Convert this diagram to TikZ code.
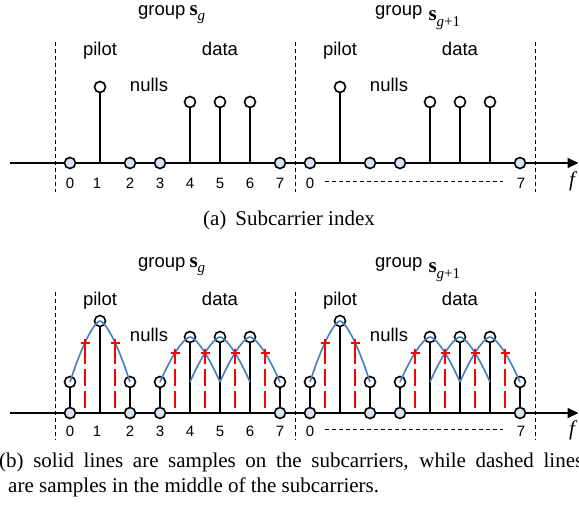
\documentclass[tikz,border=0pt]{standalone}
\usepackage{fontspec}
\setmainfont{Liberation Serif}
\newfontfamily\arialf{Liberation Sans}
\usetikzlibrary{arrows.meta}
\definecolor{nullfill}{RGB}{220,228,242}
\definecolor{curveblue}{RGB}{74,126,187}
\newcommand\grpg{{\arialf\fontsize{18.5}{20}\selectfont group}\hspace{4pt}{\fontsize{21}{22}\selectfont\bfseries s}\raisebox{-5pt}{\fontsize{15}{16}\selectfont\itshape g}}
\newcommand\grpgp{{\arialf\fontsize{18.5}{20}\selectfont group}\hspace{6pt}\raisebox{-5pt}{{\fontsize{21}{22}\selectfont\bfseries s}\raisebox{-6pt}{\fontsize{15}{16}\selectfont\itshape g\upshape +1}}}
\begin{document}
\begin{tikzpicture}[x=1pt,y=-1pt,
  axisline/.style={line width=2pt,-{Triangle[length=11pt,width=10pt]}},
  stem/.style={line width=1.6pt},
  nullc/.style={circle,draw,line width=1.6pt,fill=nullfill,minimum size=11pt,inner sep=0pt},
  openc/.style={circle,draw,line width=1.6pt,fill=white,minimum size=11pt,inner sep=0pt},
  sep/.style={line width=0.8pt,dash pattern=on 4pt off 3pt},
  lbl/.style={font=\arialf\fontsize{18.5}{20}\selectfont,anchor=base,inner sep=0pt},
  num/.style={font=\arialf\fontsize{15}{16}\selectfont,anchor=base,inner sep=0pt},
  fl/.style={font=\fontsize{21}{22}\selectfont\itshape,anchor=base,inner sep=0pt},
  captxt/.style={font=\fontsize{21}{25}\selectfont,inner sep=0pt},
  curve/.style={curveblue,line width=1.6pt},
  reddash/.style={red,line width=2pt,dash pattern=on 17pt off 5pt,dash phase=17pt},
  redcross/.style={red,line width=1.5pt},
  grp/.style={anchor=base west,inner sep=0pt}
]
\useasboundingbox (0,0) rectangle (579,506);
\clip (0,0) rectangle (579,506);

% separators
\foreach \sx in {55,295,535} {
  \draw[sep] (\sx,42) -- (\sx,192);
  \draw[sep] (\sx,292) -- (\sx,440);
}

% axes
\coordinate (axAL) at (10,163); \coordinate (axAR) at (578.5,163);
\draw[axisline] (axAL) -- (axAR);
\coordinate (axBL) at (10,413); \coordinate (axBR) at (578.5,413);
\draw[axisline] (axBL) -- (axBR);

% ---------- panel (a) ----------
\foreach \off/\gs in {0/L,240/R} {
  \coordinate (ab\gs1) at ({100+\off},163);
  \node[openc] (at\gs1) at ({100+\off},87) {};
  \draw[stem] (ab\gs1) -- (at\gs1);
  \foreach \i in {4,5,6} {
    \coordinate (ab\gs\i) at ({70+30*\i+\off},163);
    \node[openc] (at\gs\i) at ({70+30*\i+\off},102) {};
    \draw[stem] (ab\gs\i) -- (at\gs\i);
  }
  \foreach \i in {0,2,3,7}
    \node[nullc] (an\gs\i) at ({70+30*\i+\off},163) {};
  \node[lbl] (apilot\gs) at ({100+\off},55) {pilot};
  \node[lbl] (adata\gs) at ({220+\off},55) {data};
  \node[lbl] (anulls\gs) at ({149+\off},91.5) {nulls};
}
\node[grp] (agrpL) at (138,16) {\grpg};
\node[grp] (agrpR) at (375,16) {\grpgp};

\foreach \t/\xx in {0/70,1/97,2/130,3/160,4/190,5/220,6/250,7/280}
  \node[num] (anum\t) at (\xx,188) {\t};
\node[num] (anumR0) at (310,188) {0};
\node[num] (anumR7) at (521,188) {7};
\coordinate (adotsA) at (325,181); \coordinate (adotsB) at (503,181);
\draw[sep] (adotsA) -- (adotsB);
\node[fl] (afA) at (572,186) {f};

\node[captxt,anchor=base] (capa) at (289,225) {(a)\hspace{9pt}Subcarrier index};

% ---------- panel (b) ----------
\foreach \off/\gs in {0/L,240/R} {
  \coordinate (bb\gs1) at ({100+\off},413);
  \node[openc] (bt\gs1) at ({100+\off},321) {};
  \draw[stem] (bb\gs1) -- (bt\gs1);
  \foreach \i in {4,5,6} {
    \coordinate (bb\gs\i) at ({70+30*\i+\off},413);
    \node[openc] (bt\gs\i) at ({70+30*\i+\off},337) {};
    \draw[stem] (bb\gs\i) -- (bt\gs\i);
  }
  \foreach \i in {0,2,3,7} {
    \node[nullc] (bn\gs\i) at ({70+30*\i+\off},413) {};
    \node[openc] (be\gs\i) at ({70+30*\i+\off},382) {};
    \draw[stem] (bn\gs\i) -- (be\gs\i);
  }
  \draw[curve] plot[domain=-1:1,samples=60] ({100+\off+30*\x},{382-61*(1-abs(\x)^1.5)});
  \foreach \c in {190,220,250}
    \draw[curve] plot[domain=-1:1,samples=60] ({\c+\off+30*\x},{382-45*(1-abs(\x)^1.5)});
  \foreach \m in {85,115} {
    \draw[reddash] ({\m+\off},413) -- ({\m+\off},343);
    \draw[redcross] ({\m+\off-4.5},343) -- ({\m+\off+4.5},343)
                    ({\m+\off},338.5) -- ({\m+\off},348);
  }
  \foreach \m in {175,205,235,265} {
    \draw[reddash] ({\m+\off},413) -- ({\m+\off},353);
    \draw[redcross] ({\m+\off-4.5},353) -- ({\m+\off+4.5},353)
                    ({\m+\off},348.5) -- ({\m+\off},358);
  }
  \node[lbl] (bpilot\gs) at ({100+\off},305) {pilot};
  \node[lbl] (bdata\gs) at ({220+\off},305) {data};
  \node[lbl] (bnulls\gs) at ({149+\off},341) {nulls};
}
\node[grp] (bgrpL) at (138,267) {\grpg};
\node[grp] (bgrpR) at (375,267) {\grpgp};

\foreach \t/\xx in {0/70,1/97,2/130,3/160,4/190,5/220,6/250,7/280}
  \node[num] (bnum\t) at (\xx,436) {\t};
\node[num] (bnumR0) at (310,436) {0};
\node[num] (bnumR7) at (521,436) {7};
\coordinate (bdotsA) at (325,429); \coordinate (bdotsB) at (503,429);
\draw[sep] (bdotsA) -- (bdotsB);
\node[fl] (bfA) at (572,435) {f};

\node[captxt,anchor=base west] (capb1) at (-1,467) {\makebox[584pt][s]{(b) solid lines are samples on the subcarriers, while dashed lines}};
\node[captxt,anchor=base west] (capb2) at (8,492) {are samples in the middle of the subcarriers.};
\end{tikzpicture}
\end{document}
